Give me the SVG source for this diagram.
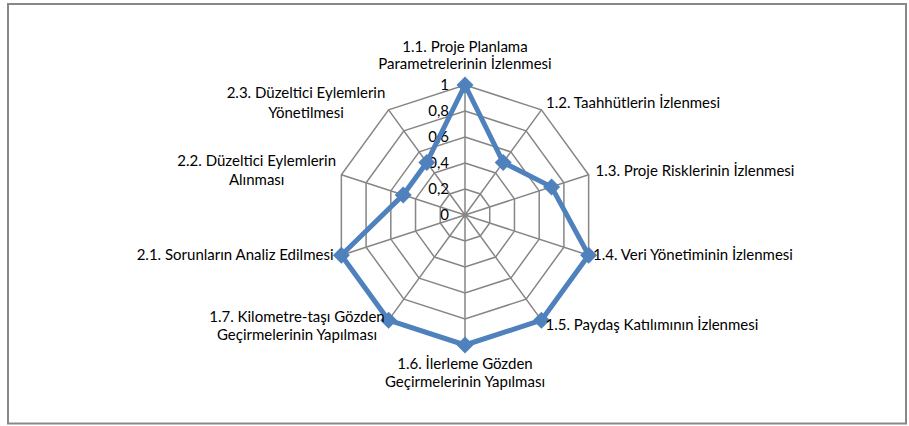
<svg xmlns="http://www.w3.org/2000/svg" width="909" height="426" viewBox="0 0 909 426">
<style>
.grid{fill:none;stroke:#868686;stroke-width:1.5}
.lbl{font-family:Lato,"Liberation Sans",sans-serif;font-size:15px;fill:#000}
.tick{font-family:Lato,"Liberation Sans",sans-serif;font-size:15px;fill:#000;text-anchor:end}
.series{fill:none;stroke:#4F81BD;stroke-width:5;stroke-linejoin:round}
.mk{fill:#4F81BD}
</style>
<defs>
<path id="dia" d="M0,-8.5 L8.5,0 L0,8.5 L-8.5,0 Z"/>
</defs>
<rect x="8" y="4" width="898" height="419.5" fill="#fff" stroke="#888" stroke-width="2"/>
<g id="grid">
<polygon class="grid" points="465,189 480.28,193.97 489.73,206.97 489.73,223.03 480.28,236.03 465,241 449.72,236.03 440.27,223.03 440.27,206.97 449.72,193.97"/>
<polygon class="grid" points="465,163 495.57,172.93 514.46,198.93 514.46,231.07 495.57,257.07 465,267 434.43,257.07 415.54,231.07 415.54,198.93 434.43,172.93"/>
<polygon class="grid" points="465,137 510.85,151.9 539.19,190.9 539.19,239.1 510.85,278.1 465,293 419.15,278.1 390.81,239.1 390.81,190.9 419.15,151.9"/>
<polygon class="grid" points="465,111 526.13,130.86 563.91,182.86 563.91,247.14 526.13,299.14 465,319 403.87,299.14 366.09,247.14 366.09,182.86 403.87,130.86"/>
<polygon class="grid" points="465,85 541.41,109.83 588.64,174.83 588.64,255.17 541.41,320.17 465,345 388.59,320.17 341.36,255.17 341.36,174.83 388.59,109.83"/>
<path class="grid" d="M465,215 L465,85 M465,215 L541.41,109.83 M465,215 L588.64,174.83 M465,215 L588.64,255.17 M465,215 L541.41,320.17 M465,215 L465,345 M465,215 L388.59,320.17 M465,215 L341.36,255.17 M465,215 L341.36,174.83 M465,215 L388.59,109.83"/>
</g>
<g id="ticks">
<text class="tick" x="449" y="220">0</text>
<text class="tick" x="449" y="194">0,2</text>
<text class="tick" x="449" y="168">0,4</text>
<text class="tick" x="449" y="142">0,6</text>
<text class="tick" x="449" y="116">0,8</text>
<text class="tick" x="449" y="90">1</text>
</g>
<g id="connectors">
<polygon class="series" points="465,85 503.21,162.41 551.55,186.88 588.64,255.17 541.41,320.17 465,345 388.59,320.17 341.36,255.17 403.18,194.91 426.79,162.41"/>
</g>
<g id="markers">
<use href="#dia" class="mk" x="465" y="85"/>
<use href="#dia" class="mk" x="503.21" y="162.41"/>
<use href="#dia" class="mk" x="551.55" y="186.88"/>
<use href="#dia" class="mk" x="588.64" y="255.17"/>
<use href="#dia" class="mk" x="541.41" y="320.17"/>
<use href="#dia" class="mk" x="465" y="345"/>
<use href="#dia" class="mk" x="388.59" y="320.17"/>
<use href="#dia" class="mk" x="341.36" y="255.17"/>
<use href="#dia" class="mk" x="403.18" y="194.91"/>
<use href="#dia" class="mk" x="426.79" y="162.41"/>
</g>
<g id="n11"><text class="lbl" text-anchor="middle" x="465" y="51.5">1.1. Proje Planlama</text><text class="lbl" text-anchor="middle" x="465" y="69">Parametrelerinin İzlenmesi</text></g>
<g id="n12"><text class="lbl" x="546" y="107.5">1.2. Taahhütlerin İzlenmesi</text></g>
<g id="n13"><text class="lbl" x="595.5" y="175.5">1.3. Proje Risklerinin İzlenmesi</text></g>
<g id="n14"><text class="lbl" x="593" y="260">1.4. Veri Yönetiminin İzlenmesi</text></g>
<g id="n15"><text class="lbl" x="545.5" y="330">1.5. Paydaş Katılımının İzlenmesi</text></g>
<g id="n16"><text class="lbl" text-anchor="middle" x="465" y="368.5">1.6. İlerleme Gözden</text><text class="lbl" text-anchor="middle" x="465" y="386.5">Geçirmelerinin Yapılması</text></g>
<g id="n17"><text class="lbl" text-anchor="middle" x="297" y="321.5">1.7. Kilometre-taşı Gözden</text><text class="lbl" text-anchor="middle" x="297" y="340">Geçirmelerinin Yapılması</text></g>
<g id="n21"><text class="lbl" text-anchor="end" x="333.5" y="259.5">2.1. Sorunların Analiz Edilmesi</text></g>
<g id="n22"><text class="lbl" text-anchor="middle" x="256.7" y="165.5">2.2. Düzeltici Eylemlerin</text><text class="lbl" text-anchor="middle" x="256.7" y="185">Alınması</text></g>
<g id="n23"><text class="lbl" text-anchor="middle" x="306" y="97.5">2.3. Düzeltici Eylemlerin</text><text class="lbl" text-anchor="middle" x="306" y="117.5">Yönetilmesi</text></g>
</svg>
